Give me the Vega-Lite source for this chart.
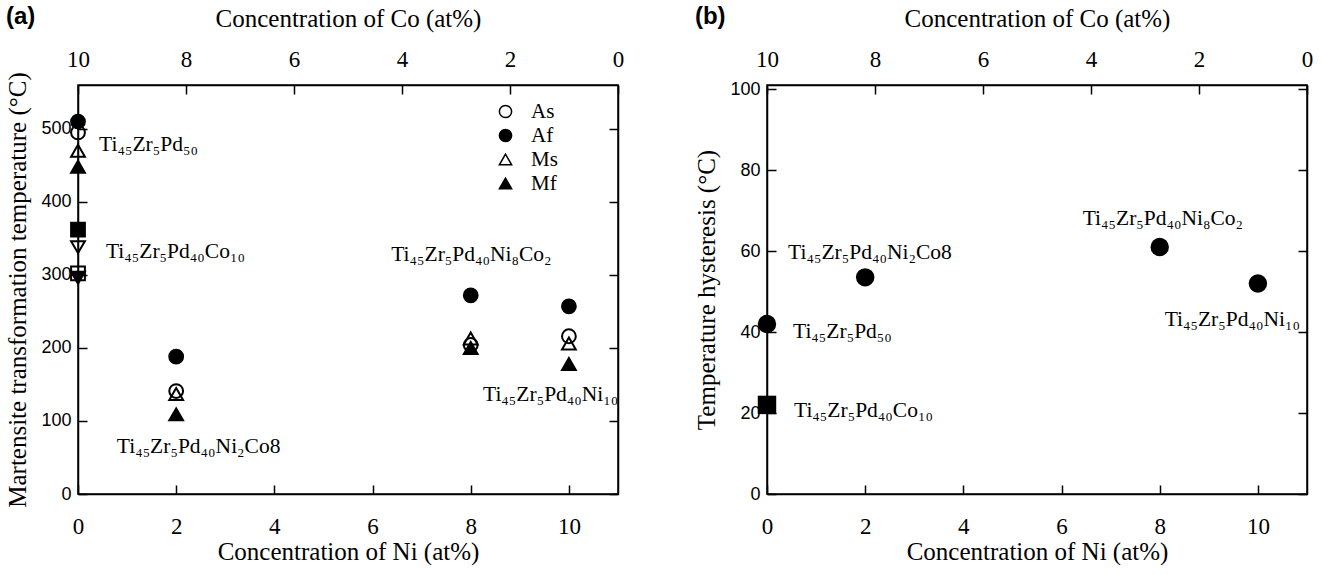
{
  "$schema": "https://vega.github.io/schema/vega-lite/v6.json",
  "padding": {"left": 5, "top": 4, "right": 5, "bottom": 0},
  "spacing": 69,
  "config": {
    "view": {"stroke": "black", "strokeWidth": 1.5},
    "axis": {"grid": false, "domainColor": "black", "domainWidth": 1.5, "tickColor": "black", "tickWidth": 1.5, "tickSize": -9, "labelColor": "black", "titleColor": "black", "titleFont": "Liberation Serif", "titleFontSize": 25, "titleFontWeight": "normal"},
    "axisY": {"labelPadding": 16, "titlePadding": 10},
    "title": {"font": "Liberation Sans", "fontSize": 24, "fontWeight": "bold", "color": "black", "anchor": "start", "frame": "bounds", "offset": -23}
  },
  "resolve": {"scale": {"x": "independent", "y": "independent", "shape": "independent", "fill": "independent"}},
  "hconcat": [
    {
      "width": 540,
      "height": 409,
      "title": {"text": "(a)"},
      "layer": [
        {
          "layer": [
            {
              "data": {"values": [
                {"ni": 0, "temp": 495, "series": "As"},
                {"ni": 0, "temp": 510, "series": "Af"},
                {"ni": 0, "temp": 470, "series": "Ms"},
                {"ni": 0, "temp": 448, "series": "Mf"},
                {"ni": 0, "temp": 362, "series": "Af (Co10)"},
                {"ni": 0, "temp": 338, "series": "Ms (Co10)"},
                {"ni": 0, "temp": 302, "series": "As (Co10)"},
                {"ni": 0, "temp": 296, "series": "Mf (Co10)"},
                {"ni": 2, "temp": 141, "series": "As"},
                {"ni": 2, "temp": 188, "series": "Af"},
                {"ni": 2, "temp": 137, "series": "Ms"},
                {"ni": 2, "temp": 109, "series": "Mf"},
                {"ni": 8, "temp": 204, "series": "As"},
                {"ni": 8, "temp": 272, "series": "Af"},
                {"ni": 8, "temp": 213, "series": "Ms"},
                {"ni": 8, "temp": 200, "series": "Mf"},
                {"ni": 10, "temp": 216, "series": "As"},
                {"ni": 10, "temp": 257, "series": "Af"},
                {"ni": 10, "temp": 206, "series": "Ms"},
                {"ni": 10, "temp": 178, "series": "Mf"}
              ]},
              "mark": {"type": "point", "filled": true, "size": 190, "stroke": "black", "strokeWidth": 2, "opacity": 1},
              "encoding": {
                "x": {"field": "ni", "type": "quantitative", "scale": {"domain": [0, 11], "nice": false, "zero": false}, "axis": {"orient": "bottom", "values": [0, 2, 4, 6, 8, 10], "title": "Concentration of Ni (at%)", "labelFont": "Liberation Serif", "labelFontSize": 23, "labelFlush": false, "labelPadding": 30, "titlePadding": 1}},
                "y": {"field": "temp", "type": "quantitative", "scale": {"domain": [0, 560], "nice": false}, "axis": {"orient": "left", "values": [0, 100, 200, 300, 400, 500], "labelFont": "Liberation Sans", "labelFontSize": 18, "title": "Martensite transformation temperature (°C)"}},
                "shape": {"field": "series", "type": "nominal",
                  "scale": {"domain": ["As", "Af", "Ms", "Mf", "As (Co10)", "Af (Co10)", "Ms (Co10)", "Mf (Co10)"], "range": ["circle", "circle", "triangle-up", "triangle-up", "square", "square", "triangle-down", "triangle-down"]},
                  "legend": {"orient": "none", "legendX": 417, "legendY": 16, "values": ["As", "Af", "Ms", "Mf"], "title": null, "labelFont": "Liberation Serif", "labelFontSize": 21, "labelColor": "black", "symbolSize": 150, "symbolOpacity": 1, "rowPadding": 2, "labelOffset": 15, "padding": 0,
                    "encode": {"symbols": {"update": {"stroke": {"value": "black"}, "strokeWidth": {"value": 2.5}}}}}},
                "fill": {"field": "series", "type": "nominal",
                  "scale": {"domain": ["As", "Af", "Ms", "Mf", "As (Co10)", "Af (Co10)", "Ms (Co10)", "Mf (Co10)"], "range": ["transparent", "black", "transparent", "black", "transparent", "black", "transparent", "black"]},
                  "legend": {"orient": "none", "legendX": 417, "legendY": 16, "values": ["As", "Af", "Ms", "Mf"], "title": null, "labelFont": "Liberation Serif", "labelFontSize": 21, "labelColor": "black", "symbolSize": 150, "symbolOpacity": 1, "rowPadding": 2, "labelOffset": 15, "padding": 0,
                    "encode": {"symbols": {"update": {"stroke": {"value": "black"}, "strokeWidth": {"value": 2.5}}}}}}
              }
            },
            {
              "data": {"values": [
                {"ni": 0.43, "temp": 478, "label": "Ti₄₅Zr₅Pd₅₀"},
                {"ni": 0.57, "temp": 331, "label": "Ti₄₅Zr₅Pd₄₀Co₁₀"},
                {"ni": 0.79, "temp": 64, "label": "Ti₄₅Zr₅Pd₄₀Ni₂Co8"},
                {"ni": 6.38, "temp": 327, "label": "Ti₄₅Zr₅Pd₄₀Ni₈Co₂"},
                {"ni": 8.25, "temp": 136, "label": "Ti₄₅Zr₅Pd₄₀Ni₁₀"}
              ]},
              "mark": {"type": "text", "align": "left", "baseline": "middle", "font": "Liberation Serif", "fontSize": 21.5, "color": "black"},
              "encoding": {
                "x": {"field": "ni", "type": "quantitative"},
                "y": {"field": "temp", "type": "quantitative"},
                "text": {"field": "label"}
              }
            }
          ]
        },
        {
          "data": {"values": [{"co": 0, "temp": 0}, {"co": 10, "temp": 0}]},
          "mark": {"type": "point", "opacity": 0},
          "encoding": {
            "x": {"field": "co", "type": "quantitative", "scale": {"domain": [0, 10], "reverse": true, "nice": false}, "axis": {"orient": "top", "values": [0, 2, 4, 6, 8, 10], "title": "Concentration of Co (at%)", "labelFont": "Liberation Serif", "labelFontSize": 23, "labelFlush": false, "labelPadding": 23, "titlePadding": 17}},
            "y": {"field": "temp", "type": "quantitative", "scale": {"domain": [0, 560], "nice": false}, "axis": {"orient": "right", "values": [0, 100, 200, 300, 400, 500], "labels": false, "title": null}}
          }
        }
      ],
      "resolve": {"scale": {"x": "independent"}, "axis": {"x": "independent", "y": "independent"}}
    },
    {
      "width": 540,
      "height": 409,
      "title": {"text": "(b)"},
      "layer": [
        {
          "layer": [
            {
              "data": {"values": [
                {"ni": 0, "hyst": 42, "alloy": "Ti45Zr5Pd50"},
                {"ni": 0, "hyst": 22, "alloy": "Ti45Zr5Pd40Co10"},
                {"ni": 2, "hyst": 53.5, "alloy": "Ti45Zr5Pd40Ni2Co8"},
                {"ni": 8, "hyst": 61, "alloy": "Ti45Zr5Pd40Ni8Co2"},
                {"ni": 10, "hyst": 52, "alloy": "Ti45Zr5Pd40Ni10"}
              ]},
              "mark": {"type": "point", "filled": true, "size": 340, "fill": "black", "opacity": 1},
              "encoding": {
                "x": {"field": "ni", "type": "quantitative", "scale": {"domain": [0, 11], "nice": false, "zero": false}, "axis": {"orient": "bottom", "values": [0, 2, 4, 6, 8, 10], "title": "Concentration of Ni (at%)", "labelFont": "Liberation Serif", "labelFontSize": 23, "labelFlush": false, "labelPadding": 30, "titlePadding": 1}},
                "y": {"field": "hyst", "type": "quantitative", "scale": {"domain": [0, 101], "nice": false}, "axis": {"orient": "left", "values": [0, 20, 40, 60, 80, 100], "labelFont": "Liberation Sans", "labelFontSize": 18, "title": "Temperature hysteresis (°C)"}},
                "shape": {"field": "alloy", "type": "nominal", "scale": {"domain": ["Ti45Zr5Pd50", "Ti45Zr5Pd40Co10", "Ti45Zr5Pd40Ni2Co8", "Ti45Zr5Pd40Ni8Co2", "Ti45Zr5Pd40Ni10"], "range": ["circle", "square", "circle", "circle", "circle"]}, "legend": null}
              }
            },
            {
              "data": {"values": [
                {"ni": 0.43, "hyst": 59.5, "label": "Ti₄₅Zr₅Pd₄₀Ni₂Co8"},
                {"ni": 0.53, "hyst": 40, "label": "Ti₄₅Zr₅Pd₅₀"},
                {"ni": 0.55, "hyst": 20.5, "label": "Ti₄₅Zr₅Pd₄₀Co₁₀"},
                {"ni": 6.43, "hyst": 68, "label": "Ti₄₅Zr₅Pd₄₀Ni₈Co₂"},
                {"ni": 8.1, "hyst": 43, "label": "Ti₄₅Zr₅Pd₄₀Ni₁₀"}
              ]},
              "mark": {"type": "text", "align": "left", "baseline": "middle", "font": "Liberation Serif", "fontSize": 21.5, "color": "black"},
              "encoding": {
                "x": {"field": "ni", "type": "quantitative"},
                "y": {"field": "hyst", "type": "quantitative"},
                "text": {"field": "label"}
              }
            }
          ]
        },
        {
          "data": {"values": [{"co": 0, "hyst": 0}, {"co": 10, "hyst": 0}]},
          "mark": {"type": "point", "opacity": 0},
          "encoding": {
            "x": {"field": "co", "type": "quantitative", "scale": {"domain": [0, 10], "reverse": true, "nice": false}, "axis": {"orient": "top", "values": [0, 2, 4, 6, 8, 10], "title": "Concentration of Co (at%)", "labelFont": "Liberation Serif", "labelFontSize": 23, "labelFlush": false, "labelPadding": 23, "titlePadding": 17}},
            "y": {"field": "hyst", "type": "quantitative", "scale": {"domain": [0, 101], "nice": false}, "axis": {"orient": "right", "values": [0, 20, 40, 60, 80, 100], "labels": false, "title": null}}
          }
        }
      ],
      "resolve": {"scale": {"x": "independent"}, "axis": {"x": "independent", "y": "independent"}}
    }
  ]
}
